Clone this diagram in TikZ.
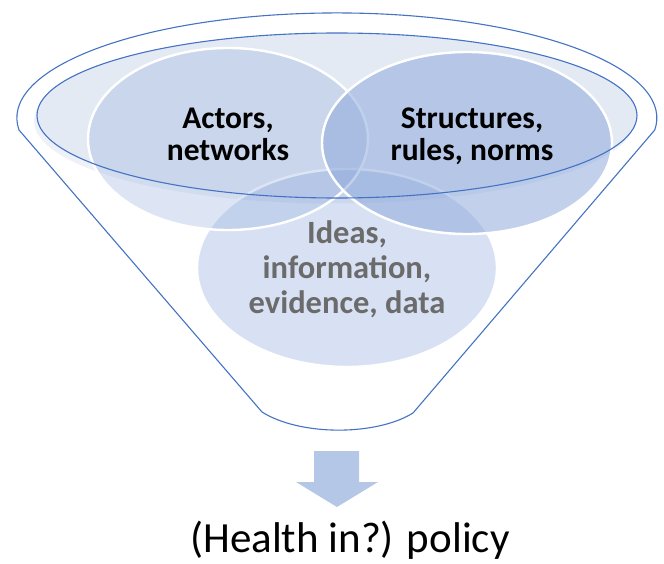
\documentclass[tikz,border=0pt]{standalone}
\usepackage{fontspec}
\setmainfont{Carlito}

\definecolor{funnelblue}{HTML}{4472C4}
\definecolor{rimfill}{HTML}{E4EAF4}
\definecolor{rimshadow}{HTML}{EEF2F8}
\definecolor{vennblue}{HTML}{8FAADC}
\definecolor{arrowfill}{HTML}{B4C7E7}
\definecolor{labelgray}{HTML}{6B6B6B}

\tikzset{
  funnel line/.style={draw=funnelblue, line width=1.1pt},
  venn circle/.style={fill=vennblue, draw=white, line width=2.4pt},
  venn label/.style={align=center, inner sep=0pt, font=\bfseries\fontsize{31.5}{32}\selectfont},
}

\begin{document}
\begin{tikzpicture}[x=1pt, y=-1pt]
                    \useasboundingbox (0,0) rectangle (664,564);
                    % Rim of the funnel:
                    \fill[rimshadow] (334,121) ellipse [x radius=300, y radius=82.5];
                    \fill[rimfill] (337,115.5) ellipse [x radius=300, y radius=82.5];
                    % Circles:
                    \path[venn circle, fill opacity=0.35] (347,268) ellipse [x radius=150, y radius=99];
                    \path[venn circle, fill opacity=0.3] (228,139) ellipse [x radius=140, y radius=91];
                    \path[venn circle, fill opacity=0.55] (467,143) ellipse [x radius=145, y radius=91];
                    % Funnel outline:
                    \draw[funnel line] (337,115.5) ellipse [x radius=300, y radius=82.5];
                    \draw[funnel line] (19,130) arc [start angle=173.4, end angle=366.6, x radius=320, y radius=105]
                        -- (413,413) .. controls (376,436) and (300,436) .. (262,412) -- cycle;
                    % Labels:
                    \node[venn label] (actors) at (228,134) {Actors,\\networks};
                    \node[venn label] (structures) at (472,136) {Structures,\\rules, norms};
                    \node[venn label, text=labelgray, font=\bfseries\fontsize{32.5}{35}\selectfont] (ideas) at (347,269) {Ideas,\\information,\\evidence, data};
                    % Arrow and result:
                    \fill[arrowfill] (314,451) -- (359,451) -- (359,482) -- (378,482) -- (337,507) -- (296,482) -- (314,482) -- cycle;
                    \node[anchor=base, inner sep=0pt, font=\fontsize{43}{50}\selectfont] (policy) at (350,552) {(Health in?) policy};
                \end{tikzpicture}
\end{document}
